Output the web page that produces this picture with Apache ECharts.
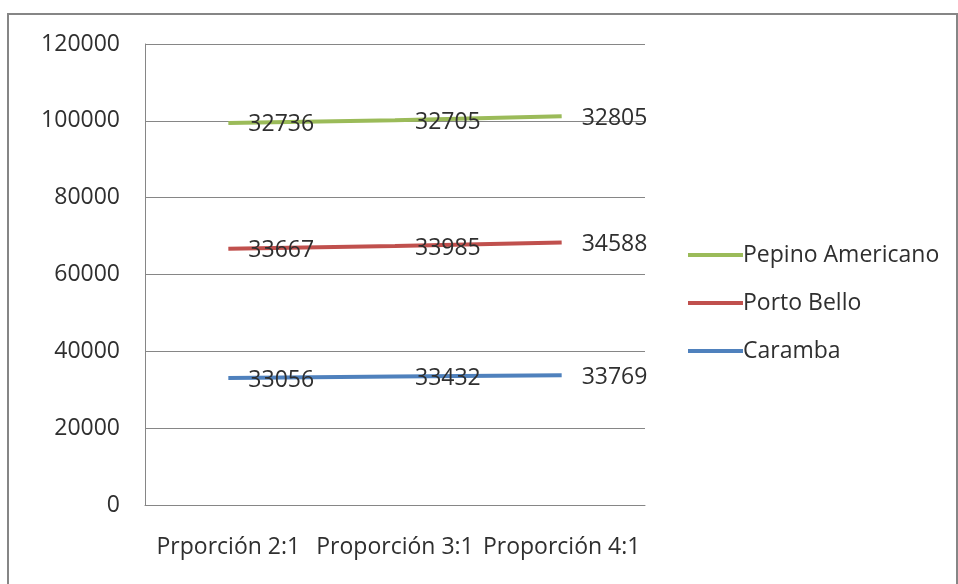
<!DOCTYPE html>
<html>
<head>
<meta charset="utf-8">
<title>Proporción</title>
<script src="https://cdn.jsdelivr.net/npm/echarts@6/dist/echarts.min.js"></script>
<style>
  html, body { margin: 0; padding: 0; background: #fff; }
  #chart { width: 958px; height: 584px; }
</style>
</head>
<body>
<div id="chart"></div>
<script>
// Categories along the x axis
var categories = ['Prporción 2:1', 'Proporción 3:1', 'Proporción 4:1'];

// Values per variety (stacked from the bottom up)
var caramba = [33056, 33432, 33769];
var portoBello = [33667, 33985, 34588];
var pepinoAmericano = [32736, 32705, 32805];

// Y axis range and step
var yMin = 0;
var yMax = 120000;
var yStep = 20000;

var FONT = '"Open Sans", "Noto Sans", sans-serif';
var FS = 23;
var TEXT = '#2f2f2f';

function lineSeries(name, values, color) {
  return {
    name: name,
    type: 'line',
    stack: 'total',
    data: values,
    symbol: 'circle',
    symbolSize: 0,
    lineStyle: { color: color, width: 4 },
    itemStyle: { color: color },
    label: {
      show: true,
      position: 'right',
      distance: 20,
      offset: [0, 2],
      color: TEXT,
      fontFamily: FONT,
      fontSize: FS
    },
    emphasis: { disabled: true },
    animation: false
  };
}

var chart = echarts.init(document.getElementById('chart'), null, { renderer: 'canvas' });
chart.setOption({
  backgroundColor: '#ffffff',
  animation: false,
  graphic: [{
    type: 'rect',
    shape: { x: 8, y: 14, width: 949, height: 600 },
    style: { fill: 'none', stroke: '#868686', lineWidth: 2 },
    silent: true
  }],
  grid: { left: 145, right: 313, top: 44, bottom: 79, containLabel: false },
  legend: {
    orient: 'vertical',
    left: 683,
    top: 238,
    itemWidth: 55,
    itemHeight: 4,
    itemGap: 24,
    icon: 'rect',
    data: ['Pepino Americano', 'Porto Bello', 'Caramba'],
    textStyle: { color: TEXT, fontFamily: FONT, fontSize: FS, lineHeight: 24, padding: [0, 0, 0, -5] },
    selectedMode: false
  },
  xAxis: {
    type: 'category',
    data: categories,
    boundaryGap: true,
    axisLine: { show: true, lineStyle: { color: '#868686', width: 1 } },
    axisTick: { show: false },
    axisLabel: { color: TEXT, fontFamily: FONT, fontSize: FS, margin: 31, interval: 0 },
    splitLine: { show: false }
  },
  yAxis: {
    type: 'value',
    min: yMin,
    max: yMax,
    interval: yStep,
    axisLine: { show: true, lineStyle: { color: '#868686', width: 1 } },
    axisTick: { show: false },
    axisLabel: {
      color: TEXT, fontFamily: FONT, fontSize: FS, margin: 25,
      formatter: function (v) { return String(v); }
    },
    splitLine: { show: true, lineStyle: { color: '#868686', width: 1 } }
  },
  series: [
    lineSeries('Caramba', caramba, '#4F81BD'),
    lineSeries('Porto Bello', portoBello, '#C0504D'),
    lineSeries('Pepino Americano', pepinoAmericano, '#9BBB59')
  ]
});
</script>
</body>
</html>
